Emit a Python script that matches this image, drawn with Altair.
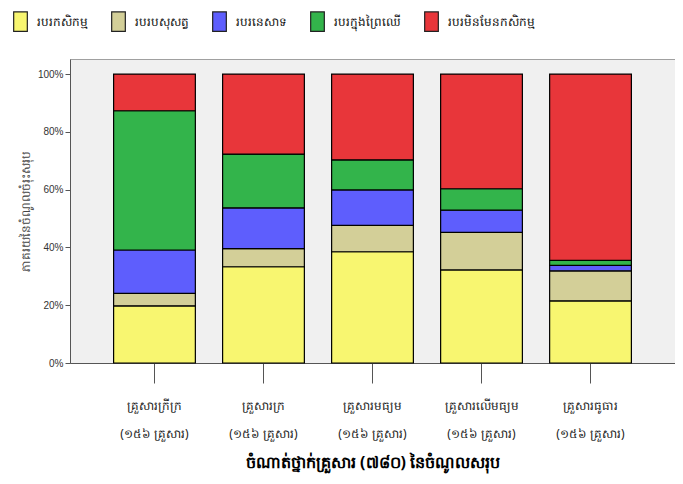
import altair as alt
import pandas as pd

categories = [
    "គ្រួសារក្រីក្រ\n(១៥៦ គ្រួសារ)",
    "គ្រួសារក្រ\n(១៥៦ គ្រួសារ)",
    "គ្រួសារមធ្យម\n(១៥៦ គ្រួសារ)",
    "គ្រួសារលើមធ្យម\n(១៥៦ គ្រួសារ)",
    "គ្រួសារធូធារ\n(១៥៦ គ្រួសារ)",
]
series = ["របរកសិកម្ម", "របរបសុសត្វ", "របរនេសាទ", "របរក្នុងព្រៃឈើ", "របរមិនមែនកសិកម្ម"]
colors = ["#F8F670", "#D3CF98", "#5E5EFD", "#33B44B", "#E8363A"]

agri = [19.8, 33.3, 38.5, 32.2, 21.5]
livestock = [4.3, 6.3, 9.1, 13.0, 10.4]
fishing = [15.0, 14.1, 12.3, 7.7, 1.9]
forest = [48.2, 18.6, 10.4, 7.4, 1.7]
nonagri = [12.7, 27.7, 29.7, 39.7, 64.5]

values = [agri, livestock, fishing, forest, nonagri]
rows = []
for si, s in enumerate(series):
    for ci, c in enumerate(categories):
        rows.append({"cat": c, "series": s, "order": si, "value": values[si][ci] / 100.0})
df = pd.DataFrame(rows)

font = "Noto Sans"

chart = alt.Chart(df).mark_bar(stroke="black", strokeWidth=1.2).encode(
    x=alt.X("cat:N", sort=categories,
            scale=alt.Scale(paddingInner=0.25, paddingOuter=0.4),
            axis=alt.Axis(title="ចំណាត់ថ្នាក់គ្រួសារ (៧៨០) នៃចំណូលសរុប",
                          labelAngle=0, labelExpr="split(datum.label, '\\n')",
                          labelLineHeight=28, labelFontSize=12, labelFont=font,
                          labelColor="#222", labelPadding=17,
                          tickSize=20, tickColor="#555", domainColor="#555",
                          titleFont=font, titleFontSize=16, titleFontWeight="bold",
                          titleColor="#000", titlePadding=15)),
    y=alt.Y("value:Q", stack="zero",
            scale=alt.Scale(domain=[0, 1.052], nice=False),
            axis=alt.Axis(title="ភាគរយនៃចំណូលចំរុះសរុប", format=".0%",
                          values=[0, 0.2, 0.4, 0.6, 0.8, 1.0], grid=False,
                          labelFont="Liberation Sans", labelFontSize=10, labelColor="#333",
                          tickSize=5, tickColor="#555", domainColor="#555",
                          titleFont=font, titleFontSize=12, titleFontWeight="normal",
                          titleColor="#444", titlePadding=5)),
    color=alt.Color("series:N", sort=series,
                    scale=alt.Scale(domain=series, range=colors),
                    legend=alt.Legend(title=None, orient="none", legendX=-60, legendY=-48,
                                      direction="horizontal", columns=5, gridAlign="each",
                                      symbolType="M-0.7,-1H0.7V1H-0.7Z", symbolSize=380,
                                      symbolStrokeColor="#222", symbolStrokeWidth=1.2,
                                      symbolOpacity=1,
                                      labelFont=font, labelFontSize=12, labelColor="#111",
                                      labelOffset=6, columnPadding=20)),
    order=alt.Order("order:Q", sort="ascending"),
).properties(
    width=605, height=304,
    autosize=alt.AutoSizeParams(type="none"),
    padding={"left": 62, "top": 51, "right": 0, "bottom": 113},
    background="white",
).configure_view(
    fill="#F0F0F0", stroke="#A0A0A0", strokeWidth=1
)

chart.save("out.html", embed_options={"renderer": "svg", "actions": False})
